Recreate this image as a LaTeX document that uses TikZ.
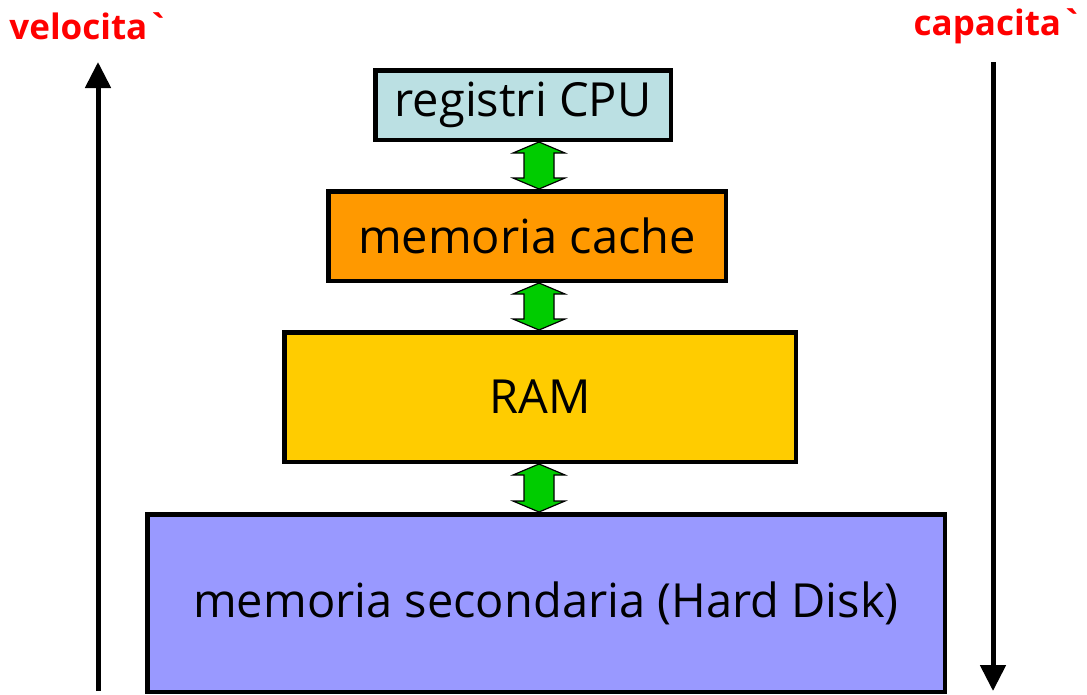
\documentclass[tikz,border=0pt]{standalone}
\usepackage{fontspec}
\setmainfont{Open Sans}
\usetikzlibrary{arrows.meta,calc}
\definecolor{cpuc}{HTML}{BBE0E3}
\definecolor{cachec}{HTML}{FF9900}
\definecolor{ramc}{HTML}{FFCC00}
\definecolor{hdc}{HTML}{9999FF}
\definecolor{grn}{HTML}{00CC00}
\tikzset{
  box/.style={draw=black, line width=4.5pt, inner sep=0pt, font=\fontsize{47}{50}\selectfont},
  lab/.style={text=red, inner sep=0pt, font=\bfseries\fontsize{35}{38}\selectfont},
  axisarrow/.style={line width=5pt, -{Triangle[width=25pt,length=26pt]}},
  dbl/.style={fill=grn, draw=black, line width=1.2pt, line join=miter},
}
\newcommand\linkarrow[2]{%
  \path[dbl] let \p1=(#1.south), \p2=(#2.north), \p3=(ac) in
    (\x3,\y1) -- (\x3+26pt,\y1-11pt) -- (\x3+15pt,\y1-11pt) -- (\x3+15pt,\y2+11pt)
    -- (\x3+26pt,\y2+11pt) -- (\x3,\y2) -- (\x3-26pt,\y2+11pt) -- (\x3-15pt,\y2+11pt)
    -- (\x3-15pt,\y1-11pt) -- (\x3-26pt,\y1-11pt) -- cycle;}
\begin{document}
\begin{tikzpicture}[x=1pt,y=-1pt]
\useasboundingbox (0,0) rectangle (1087,694);
\coordinate (ac) at (539,0);
\node[box, fill=cpuc, minimum width=295.5, minimum height=69.5] (cpu) at (523,105) {registri CPU};
\node[box, fill=cachec, minimum width=397.5, minimum height=89.5] (cache) at (527,236) {memoria cache};
\node[box, fill=ramc, minimum width=511.5, minimum height=129.5] (ram) at (540,397) {RAM};
\node[box, fill=hdc, minimum width=797.5, minimum height=177.5] (hd) at (546,603) {memoria secondaria (Hard Disk)};
\linkarrow{cpu}{cache}
\linkarrow{cache}{ram}
\linkarrow{ram}{hd}
\coordinate (v0) at (98,691);
\coordinate (v1) at (98,62);
\coordinate (c0) at (993,62);
\coordinate (c1) at (993,691);
\draw[axisarrow] (v0) -- (v1);
\draw[axisarrow] (c0) -- (c1);
\node[lab] (vel) at (89,26) {velocita\textasciigrave};
\node[lab] (cap) at (998,26) {capacita\textasciigrave};
\end{tikzpicture}
\end{document}
